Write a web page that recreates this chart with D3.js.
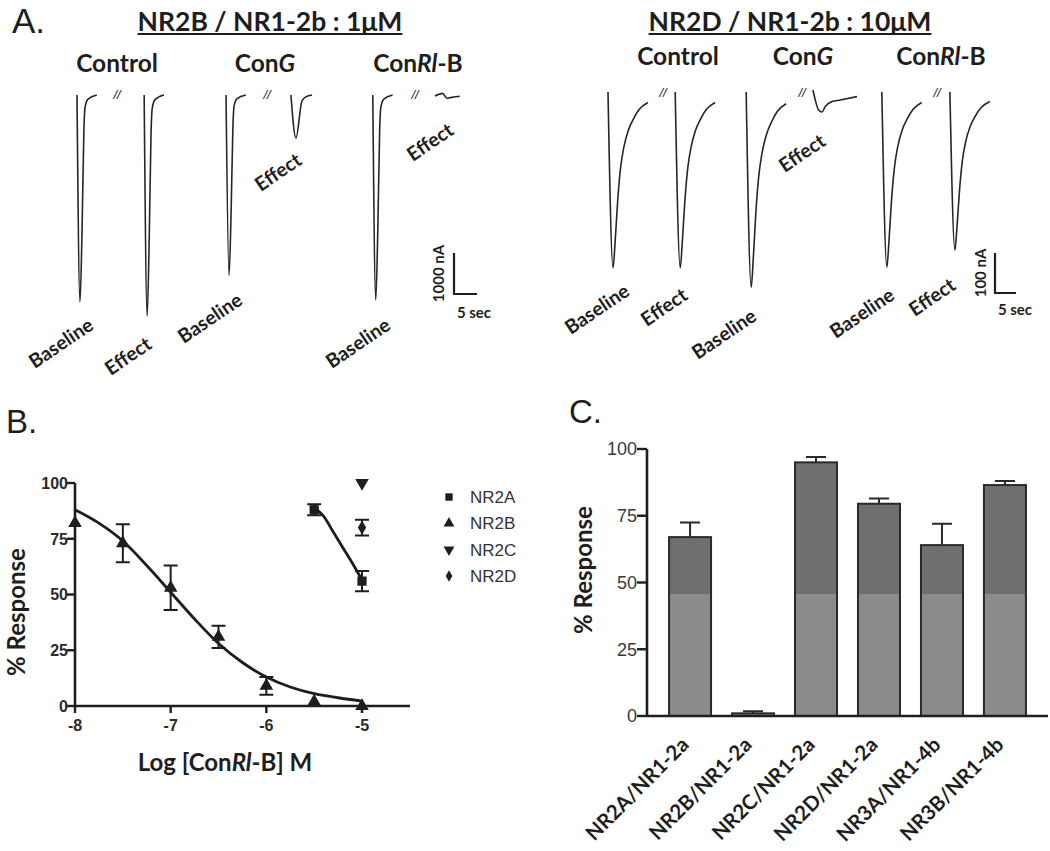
<!DOCTYPE html>
<html><head><meta charset="utf-8">
<script src="https://cdn.jsdelivr.net/npm/d3@7"></script>
<style>body{margin:0;background:#fff} svg{display:block}</style>
</head><body>
<svg id="fig" width="1050" height="851"></svg>
<script>
// ================= DATA =================
// Panel A : current traces (time in s relative to onset, fraction of peak)
const tplFastNR2B = [[0,0],[0.65,1],[1.1,0.65],[1.5,0.17],[1.75,0.06],[2.4,0.02],[4.3,0]];
const tplConGNR2B = [[0,0],[1.1,1],[2.4,0.14],[3.3,0.04],[4.6,0]];
const tplRlNR2B   = [[0,0.3],[1.7,-0.5],[2.6,1],[3.3,0.8],[5.4,0.4]];
const tplSlowNR2D = [[0,0],[1.2,1],[1.7,0.85],[2.3,0.62],[3.0,0.43],[3.8,0.31],[4.8,0.22],[6.0,0.155],[7.4,0.1],[9.5,0.06]];
const tplConGNR2D = [[0,-0.1],[0.55,0.4],[1.33,0.9],[2.14,1],[2.93,0.73],[4.52,0.48],[6.5,0.4],[10.5,0.23]];

const nr2bTraceNames  = ["Baseline","Effect","Baseline","Effect","Baseline","Effect"];
const nr2bTraceOnset  = [0, 14.6, 32.4, 46.5, 64.3, 77.8];      // s
const nr2bTraceAmp    = [5050, 5390, 4400, 1050, 5000, 80];      // nA
const nr2bTraceShape  = [tplFastNR2B, tplFastNR2B, tplFastNR2B, tplConGNR2B, tplFastNR2B, tplRlNR2B];

const nr2dTraceNames  = ["Baseline","Effect","Baseline","Effect","Baseline","Effect"];
const nr2dTraceOnset  = [0, 16.0, 32.9, 48.8, 65.2, 81.4];
const nr2dTraceAmp    = [440, 440, 488, 50, 438, 395];
const nr2dTraceShape  = [tplSlowNR2D, tplSlowNR2D, tplSlowNR2D, tplConGNR2D, tplSlowNR2D, tplSlowNR2D];

// Panel B : concentration-response
const nr2bLog  = [-8,-7.5,-7,-6.5,-6,-5.5,-5];
const nr2bResp = [82,73,53,31,9,2,0];
const nr2bErr  = [0,8.5,10,5,4,0,0];
const nr2aLog  = [-5.5,-5];
const nr2aResp = [88,56];
const nr2aErr  = [2.5,4.5];
const nr2cLog  = [-5];
const nr2cResp = [100];
const nr2dLog  = [-5];
const nr2dResp = [80];
const nr2dErr  = [3.5];
const nr2bFitX = [-8,-7.75,-7.5,-7.25,-7,-6.75,-6.5,-6.25,-6,-5.75,-5.5,-5.25,-5];
const nr2bFitY = [88,82,74,63,51,39,28,19.5,13,8.5,5.5,3.7,2.2];
const nr2aFitX = [-5.5,-5.4,-5.3,-5.2,-5.1,-5];
const nr2aFitY = [89,85,78,71,64,56.5];
const bXTicks  = [-8,-7,-6,-5];
const bYTicks  = [0,25,50,75,100];
const legendNames = ["NR2A","NR2B","NR2C","NR2D"];

// Panel C : bar chart
const receptors = ["NR2A/NR1-2a","NR2B/NR1-2a","NR2C/NR1-2a","NR2D/NR1-2a","NR3A/NR1-4b","NR3B/NR1-4b"];
const respMean  = [67,1,95,79.5,64,86.5];
const respErr   = [5.5,0.8,2,2,8,1.5];
const cYTicks   = [0,25,50,75,100];

// ================= DRAW =================
const svg = d3.select("#fig");
const TF = "Lato, 'Open Sans', sans-serif";
const AF = "'Liberation Sans', Arial, sans-serif";
const INK = "#1e1e1e";

// ---------- Panel A ----------
svg.append("text").attr("x",12).attr("y",33).attr("font-family",AF).attr("font-size",35).attr("fill",INK).text("A.");

function header(x, y, str){
  const t = svg.append("text").attr("x",x).attr("y",y).attr("text-anchor","middle")
    .attr("font-family",TF).attr("font-weight",700).attr("font-size",26.5).attr("fill",INK).text(str);
  const bb = t.node().getBBox();
  svg.append("line").attr("x1",bb.x).attr("x2",bb.x+bb.width).attr("y1",y+3).attr("y2",y+3)
    .attr("stroke",INK).attr("stroke-width",2);
}
header(270, 31, "NR2B / NR1-2b : 1\u03BCM");
header(790, 31, "NR2D / NR1-2b : 10\u03BCM");

function condLabel(x, y, parts){
  const t = svg.append("text").attr("x",x).attr("y",y).attr("text-anchor","middle")
    .attr("font-family",TF).attr("font-weight",700).attr("font-size",24.5).attr("fill",INK);
  parts.forEach(p => t.append("tspan").attr("font-style", p[1] ? "italic" : "normal").text(p[0]));
}
const condParts = [[["Control",0]],[["Con",0],["G",1]],[["Con",0],["Rl",1],["-B",0]]];
[[117,72],[265,72],[418,72]].forEach((p,i)=>condLabel(p[0],p[1],condParts[i]));
[[678,65],[803,65],[941,65]].forEach((p,i)=>condLabel(p[0],p[1],condParts[i]));

function tracePanel(xs, ys, onsets, amps, shapes, names, labelPos, breaks){
  const g = svg.append("g");
  const line = d3.line().curve(d3.curveMonotoneX);
  onsets.forEach((on,i)=>{
    const pts = shapes[i].map(([t,f]) => [xs(on+t), ys(-amps[i]*f)]);
    g.append("path").attr("d", line(pts)).attr("fill","none").attr("stroke","#262626")
      .attr("stroke-width",1.6).attr("stroke-linejoin","round");
  });
  names.forEach((n,i)=>{
    g.append("text").attr("transform",`translate(${labelPos[i][0]},${labelPos[i][1]}) rotate(-34)`)
      .attr("text-anchor","middle").attr("dy","0.35em")
      .attr("font-family",TF).attr("font-weight",700).attr("font-size",19.5).attr("fill",INK).text(n);
  });
  breaks.forEach(b=>{
    g.append("text").attr("x",b[0]).attr("y",b[1]).attr("text-anchor","middle")
      .attr("font-family",AF).attr("font-style","italic").attr("font-size",13).attr("fill",INK).text("//");
  });
  return g;
}
// NR2B panel scales: 5 s -> 23 px, 1000 nA -> 41 px
const xA1 = d3.scaleLinear().domain([0,5]).range([77,100]);
const yA1 = d3.scaleLinear().domain([0,-1000]).range([95,136]);
tracePanel(xA1, yA1, nr2bTraceOnset, nr2bTraceAmp, nr2bTraceShape, nr2bTraceNames,
  [[61,343],[128,356],[210,318],[278,172],[358,343],[430,142]],
  [[117,99],[267,99],[415,99]]);
// NR2D panel scales: 5 s -> 21 px, 100 nA -> 40 px
const xA2 = d3.scaleLinear().domain([0,5]).range([608,629]);
const yA2 = d3.scaleLinear().domain([0,-100]).range([92,132]);
tracePanel(xA2, yA2, nr2dTraceOnset, nr2dTraceAmp, nr2dTraceShape, nr2dTraceNames,
  [[597,309],[664,307],[724,334],[802,153],[862,313],[932,297]],
  [[663,97],[802,97],[937,97]]);

function scaleBar(cx, cy, wx, hy, vLabel, vlx, hlx, hly){
  svg.append("path").attr("d",`M${cx},${cy-hy}V${cy}H${cx+wx}`).attr("fill","none")
    .attr("stroke",INK).attr("stroke-width",2.2);
  svg.append("text").attr("transform",`translate(${vlx},${cy-hy/2}) rotate(-90)`).attr("text-anchor","middle")
    .attr("dy","0.35em").attr("font-family",TF).attr("font-weight",700).attr("font-size",15).attr("fill",INK).text(vLabel);
  svg.append("text").attr("x",hlx).attr("y",hly).attr("text-anchor","middle")
    .attr("font-family",TF).attr("font-weight",700).attr("font-size",15).attr("fill",INK).text("5 sec");
}
scaleBar(454, 294, xA1(5)-xA1(0), yA1(-1000)-yA1(0), "1000 nA", 439, 474, 318);
scaleBar(995, 293, xA2(5)-xA2(0), yA2(-100)-yA2(0), "100 nA", 981, 1015, 315);

// ---------- Panel B ----------
svg.append("text").attr("x",6).attr("y",433).attr("font-family",AF).attr("font-size",33).attr("fill",INK).text("B.");
const xB = d3.scaleLinear().domain([-8,-5]).range([75,362]);
const yB = d3.scaleLinear().domain([0,100]).range([706,483]);
const gB = svg.append("g");
gB.append("line").attr("x1",75).attr("x2",410).attr("y1",yB(0)).attr("y2",yB(0)).attr("stroke",INK).attr("stroke-width",2.6);
gB.append("line").attr("x1",75).attr("x2",75).attr("y1",yB(0)).attr("y2",yB(100)).attr("stroke",INK).attr("stroke-width",2.6);
bYTicks.forEach(v=>{
  gB.append("line").attr("x1",67).attr("x2",75).attr("y1",yB(v)).attr("y2",yB(v)).attr("stroke",INK).attr("stroke-width",2.4);
  gB.append("text").attr("x",68).attr("y",yB(v)).attr("dy","0.36em").attr("text-anchor","end")
    .attr("font-family",AF).attr("font-weight",700).attr("font-size",16).attr("fill","#2a2a2a").text(v);
});
bXTicks.forEach(v=>{
  gB.append("line").attr("x1",xB(v)).attr("x2",xB(v)).attr("y1",yB(0)).attr("y2",yB(0)+7).attr("stroke",INK).attr("stroke-width",2.4);
  gB.append("text").attr("x",xB(v)).attr("y",731).attr("text-anchor","middle")
    .attr("font-family",AF).attr("font-weight",700).attr("font-size",16).attr("fill","#2a2a2a").text(v);
});
const fitLine = d3.line().x(d=>xB(d[0])).y(d=>yB(d[1])).curve(d3.curveMonotoneX);
gB.append("path").attr("d",fitLine(nr2bFitX.map((x,i)=>[x,nr2bFitY[i]]))).attr("fill","none").attr("stroke",INK).attr("stroke-width",2.8);
gB.append("path").attr("d",fitLine(nr2aFitX.map((x,i)=>[x,nr2aFitY[i]]))).attr("fill","none").attr("stroke",INK).attr("stroke-width",2.8);

function errBar(g,x,y,e){
  if(!e) return;
  const cx=xB(x), w=7;
  g.append("path").attr("d",`M${cx},${yB(y-e)}V${yB(y+e)}M${cx-w},${yB(y+e)}H${cx+w}M${cx-w},${yB(y-e)}H${cx+w}`)
    .attr("stroke",INK).attr("stroke-width",2).attr("fill","none");
}
nr2bLog.forEach((x,i)=>errBar(gB,x,nr2bResp[i],nr2bErr[i]));
nr2aLog.forEach((x,i)=>errBar(gB,x,nr2aResp[i],nr2aErr[i]));
nr2dLog.forEach((x,i)=>errBar(gB,x,nr2dResp[i],nr2dErr[i]));

const symSq = d3.symbol().type(d3.symbolSquare).size(85)();
const symTri = d3.symbol().type(d3.symbolTriangle).size(80)();
const symDia = d3.symbol().type(d3.symbolDiamond).size(60)();
function marks(xsArr, ysArr, path, rot){
  xsArr.forEach((x,i)=>gB.append("path").attr("d",path)
    .attr("transform",`translate(${xB(x)},${yB(ysArr[i])}) rotate(${rot})`).attr("fill",INK));
}
marks(nr2aLog, nr2aResp, symSq, 0);
marks(nr2bLog, nr2bResp, symTri, 0);
marks(nr2cLog, nr2cResp, symTri, 180);
marks(nr2dLog, nr2dResp, symDia, 0);

// legend
const legSyms = [[symSq,0],[symTri,0],[symTri,180],[symDia,0]];
legendNames.forEach((n,i)=>{
  const y = 497 + i*26.3;
  gB.append("path").attr("d",legSyms[i][0]).attr("transform",`translate(449,${y}) rotate(${legSyms[i][1]}) scale(0.8)`).attr("fill",INK);
  gB.append("text").attr("x",470).attr("y",y).attr("dy","0.36em").attr("font-family",AF).attr("font-size",17).attr("fill","#333").text(n);
});
gB.append("text").attr("transform","translate(17,612) rotate(-90)").attr("text-anchor","middle").attr("dy","0.35em")
  .attr("font-family",TF).attr("font-weight",700).attr("font-size",24).attr("fill",INK).text("% Response");
const xt = gB.append("text").attr("x",225).attr("y",771).attr("text-anchor","middle")
  .attr("font-family",TF).attr("font-weight",700).attr("font-size",24).attr("fill",INK);
xt.append("tspan").text("Log [Con");
xt.append("tspan").attr("font-style","italic").text("Rl");
xt.append("tspan").text("-B] M");

// ---------- Panel C ----------
svg.append("text").attr("x",569).attr("y",423).attr("font-family",AF).attr("font-size",33).attr("fill",INK).text("C.");
const xC = d3.scaleBand().domain(receptors).range([647,1048]).paddingInner(0.333).paddingOuter(0.35);
const yC = d3.scaleLinear().domain([0,100]).range([716,449]);
const gC = svg.append("g");
const split = 45.7;
receptors.forEach((r,i)=>{
  const x = xC(r), w = xC.bandwidth(), v = respMean[i];
  gC.append("path").attr("d",`M${x+w/2},${yC(v)}V${yC(v+respErr[i])}M${x+w/2-10},${yC(v+respErr[i])}H${x+w/2+10}`)
    .attr("stroke","#2a2a2a").attr("stroke-width",2).attr("fill","none");
  gC.append("rect").attr("x",x).attr("width",w).attr("y",yC(v)).attr("height",yC(0)-yC(v)).attr("fill","#6f6f6f");
  const lv = Math.min(v, split);
  gC.append("rect").attr("x",x).attr("width",w).attr("y",yC(lv)).attr("height",yC(0)-yC(lv)).attr("fill","#8b8b8b");
  gC.append("rect").attr("x",x).attr("width",w).attr("y",yC(v)).attr("height",yC(0)-yC(v))
    .attr("fill","none").attr("stroke","#2a2a2a").attr("stroke-width",2);
  gC.append("text").attr("transform",`translate(${x+w/2},${746}) rotate(-45)`).attr("text-anchor","end")
    .attr("font-family",TF).attr("font-weight",700).attr("font-size",20.5).attr("fill",INK).text(r);
});
gC.append("line").attr("x1",647).attr("x2",1048).attr("y1",yC(0)).attr("y2",yC(0)).attr("stroke",INK).attr("stroke-width",2.6);
gC.append("line").attr("x1",647).attr("x2",647).attr("y1",yC(0)).attr("y2",yC(100)).attr("stroke",INK).attr("stroke-width",2.6);
cYTicks.forEach(v=>{
  gC.append("line").attr("x1",637).attr("x2",647).attr("y1",yC(v)).attr("y2",yC(v)).attr("stroke",INK).attr("stroke-width",2.4);
  gC.append("text").attr("x",637).attr("y",yC(v)).attr("dy","0.36em").attr("text-anchor","end")
    .attr("font-family",AF).attr("font-size",18).attr("fill","#3a3a3a").text(v);
});
gC.append("text").attr("transform","translate(584,570) rotate(-90)").attr("text-anchor","middle").attr("dy","0.35em")
  .attr("font-family",TF).attr("font-weight",700).attr("font-size",24).attr("fill",INK).text("% Response");
</script>
</body></html>
